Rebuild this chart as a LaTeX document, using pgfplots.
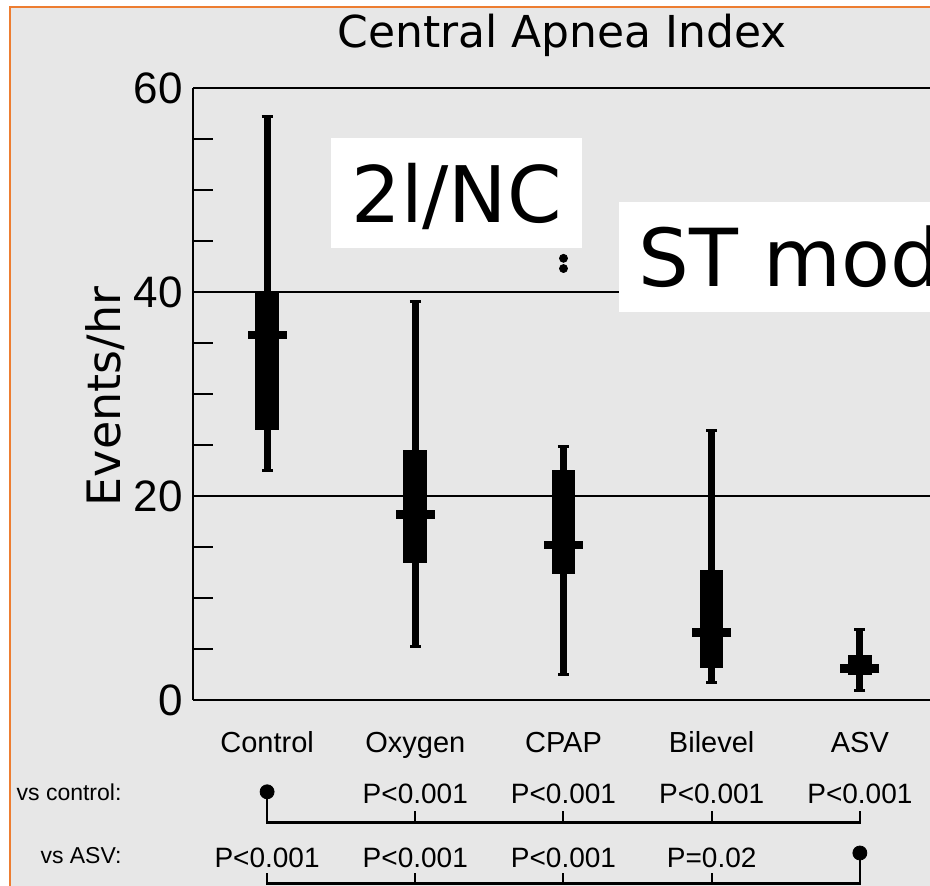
\documentclass[border=0pt]{standalone}
\usepackage{fontspec}
\setmainfont{Liberation Sans}
\newfontfamily\dejavu{DejaVu Sans}
\usepackage{pgfplots}
\pgfplotsset{compat=1.18}
\usepackage{pgfplotstable}
\definecolor{bggray}{RGB}{231,231,231}
\definecolor{frameorange}{RGB}{237,125,49}

\pgfplotstableread{
x lw q1 med q3 uw
1 22.5 26.5 35.8 40.0 57.2
2 5.2 13.4 18.2 24.5 39.1
3 2.5 12.4 15.2 22.5 24.9
4 1.7 3.1 6.6 12.7 26.4
5 0.9 2.45 3.1 4.4 6.95
}\apnea

\begin{document}
\begin{tikzpicture}
\useasboundingbox (0,0) rectangle (465pt,443pt);
\fill[white] (0,0) rectangle (465pt,443pt);
\clip (0,0) rectangle (465pt,443pt);
\fill[bggray] (5pt,0) rectangle (465pt,439.35pt);
\draw[frameorange, line width=1.1pt] (5pt,0) -- (5pt,439.35pt) -- (466pt,439.35pt);

\begin{axis}[
  at={(96.5pt,93pt)}, anchor=south west,
  scale only axis, width=377.9pt, height=306pt,
  xmin=0.5, xmax=5.6, ymin=0, ymax=60,
  axis x line*=bottom, axis y line*=left,
  axis line style={line width=1.3pt, black},
  clip=false,
  ytick={0,20,40,60},
  minor ytick={5,10,15,25,30,35,45,50,55},
  ymajorgrids,
  major grid style={line width=1pt, black},
  tick align=inside,
  major tick length=0pt,
  minor tick length=10pt,
  minor tick style={line width=1.3pt, black},
  yticklabel style={font=\fontsize{22}{22}\selectfont, inner sep=0pt, xshift=-5pt},
  xtick={1,2,3,4,5},
  xticklabels={Control,Oxygen,CPAP,Bilevel,ASV},
  xticklabel style={font=\fontsize{14.5}{14.5}\selectfont, inner sep=0pt, anchor=base, yshift=-26.5pt},
  xtick style={draw=none},
  /pgf/number format/assume math mode=true,
]
% whiskers
\addplot[black, only marks, mark=none,
  error bars/.cd, y dir=both, y explicit,
  error bar style={draw=black, line width=3.5pt},
  error mark=|, error mark options={draw=black, line width=1.5pt, mark size=2.75pt}]
  table[x=x, y=med, y error plus expr=\thisrow{uw}-\thisrow{med}, y error minus expr=\thisrow{med}-\thisrow{lw}] {\apnea};
% boxes
\addplot[black, only marks, mark=none,
  error bars/.cd, y dir=both, y explicit,
  error bar style={draw=black, line width=11.8pt},
  error mark=none]
  table[x=x, y=med, y error plus expr=\thisrow{q3}-\thisrow{med}, y error minus expr=\thisrow{med}-\thisrow{q1}] {\apnea};
% medians
\addplot[black, only marks, mark=-, mark size=9.7pt, mark options={line width=4.2pt, draw=black}]
  table[x=x, y=med] {\apnea};
% outliers
\addplot[black, only marks, mark=*, mark size=2pt] coordinates {(3,43.3) (3,42.3)};

% comparison brackets: vs control
\addplot[black, line width=1.2pt, mark=none] coordinates {(1,-9.0) (1,-12.0) (5,-12.0) (5,-10.9)};
\addplot[black, line width=1pt, mark=none] coordinates {(2,-12.0) (2,-10.9)};
\addplot[black, line width=1pt, mark=none] coordinates {(3,-12.0) (3,-10.9)};
\addplot[black, line width=1pt, mark=none] coordinates {(4,-12.0) (4,-10.9)};
\addplot[black, only marks, mark=*, mark size=3.5pt] coordinates {(1,-9.0)};
% vs ASV
\addplot[black, line width=1.2pt, mark=none] coordinates {(1,-17.0) (1,-18.0) (5,-18.0) (5,-15.0)};
\addplot[black, line width=1pt, mark=none] coordinates {(2,-18.0) (2,-17.0)};
\addplot[black, line width=1pt, mark=none] coordinates {(3,-18.0) (3,-17.0)};
\addplot[black, line width=1pt, mark=none] coordinates {(4,-18.0) (4,-17.0)};
\addplot[black, only marks, mark=*, mark size=3.5pt] coordinates {(5,-15.0)};

\begin{scope}[every node/.style={inner sep=0pt, anchor=base, font=\fontsize{14}{14}\selectfont}]
\node at (axis cs:2,-10.1) {P<0.001};
\node at (axis cs:3,-10.1) {P<0.001};
\node at (axis cs:4,-10.1) {P<0.001};
\node at (axis cs:5,-10.1) {P<0.001};
\node at (axis cs:1,-16.4) {P<0.001};
\node at (axis cs:2,-16.4) {P<0.001};
\node at (axis cs:3,-16.4) {P<0.001};
\node at (axis cs:4,-16.4) {P=0.02};
\end{scope}
\node[anchor=base east, inner sep=0pt, font=\fontsize{11.5}{11.5}\selectfont] at (axis cs:0.02,-9.9) {vs control:};
\node[anchor=base east, inner sep=0pt, font=\fontsize{11.5}{11.5}\selectfont] at (axis cs:0.02,-16.0) {vs ASV:};
\end{axis}

% title and axis label
\node[anchor=base, inner sep=0pt, font={\dejavu\fontsize{22}{22}\selectfont}] at (281pt,419pt) {Central Apnea Index};
\node[rotate=90, anchor=base, inner sep=0pt, font={\dejavu\fontsize{23}{23}\selectfont}] at (60pt,244.75pt) {Events/hr};

% overlay labels
\fill[white] (165.5pt,319pt) rectangle (291pt,374pt);
\node[anchor=base west, inner sep=0pt, font={\dejavu\fontsize{39}{39}\selectfont}] at (175.5pt,331.5pt) {2l/NC};
\fill[white] (309.5pt,287pt) rectangle (520pt,342pt);
\node[anchor=base west, inner sep=0pt, font={\dejavu\fontsize{40}{40}\selectfont}] at (319pt,299.5pt) {ST mode};
\end{tikzpicture}
\end{document}
